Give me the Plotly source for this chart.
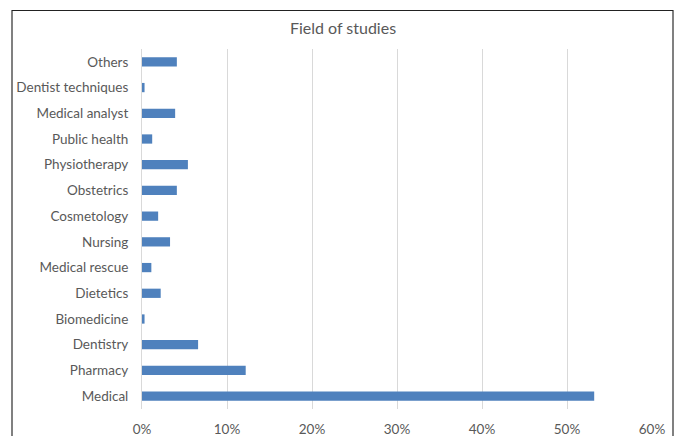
import plotly.graph_objects as go

# Share of respondents by field of studies (percent)
fields = [
    "Medical", "Pharmacy", "Dentistry", "Biomedicine", "Dietetics",
    "Medical rescue", "Nursing", "Cosmetology", "Obstetrics",
    "Physiotherapy", "Public health", "Medical analyst",
    "Dentist techniques", "Others",
]
shares = [53.2, 12.2, 6.6, 0.3, 2.2, 1.1, 3.3, 1.9, 4.1, 5.4, 1.2, 3.9, 0.3, 4.1]
tick_vals = [0, 10, 20, 30, 40, 50, 60]
tick_text = ["0%", "10%", "20%", "30%", "40%", "50%", "60%"]

TEXT = "#595959"
FONT = "Lato, 'Liberation Sans', sans-serif"

fig = go.Figure(
    go.Bar(
        x=shares,
        y=fields,
        orientation="h",
        marker=dict(color="#4F81BD", line=dict(width=0)),
        hoverinfo="x+y",
    )
)

# Plot area spans x 142..652 and y 49..409 px
L, R, T, B = 142, 24, 49, 27
W, H = 676, 436
pw, ph = W - L - R, H - T - B

def px_x(px):
    return (px - L) / pw

def px_y(py):
    return (H - B - py) / ph

fig.update_layout(
    width=W,
    height=H,
    margin=dict(l=L, r=R, t=T, b=B, autoexpand=False),
    paper_bgcolor="white",
    plot_bgcolor="white",
    bargap=0.64,
    showlegend=False,
    font=dict(family=FONT, size=13.5, color=TEXT),
    title=dict(
        text="Field of studies",
        x=343 / W,
        xref="container",
        xanchor="center",
        y=1 - 28 / H,
        yanchor="middle",
        font=dict(family=FONT, size=16, color=TEXT),
    ),
    xaxis=dict(
        range=[0, 60],
        tickvals=tick_vals,
        ticktext=tick_text,
        showgrid=True,
        gridcolor="#D9D9D9",
        gridwidth=1,
        zeroline=False,
        showline=False,
        ticks="",
        ticklabelstandoff=10,
        automargin=False,
        fixedrange=True,
    ),
    yaxis=dict(
        categoryorder="array",
        categoryarray=fields,
        showgrid=False,
        zeroline=False,
        showline=True,
        linecolor="#D9D9D9",
        linewidth=1,
        ticks="",
        ticklabelstandoff=10,
        automargin=False,
        fixedrange=True,
    ),
    shapes=[
        # chart frame
        dict(type="line", xref="paper", yref="paper",
             x0=px_x(12), x1=px_x(12), y0=px_y(10), y1=px_y(445),
             line=dict(color="#808080", width=2)),
        dict(type="line", xref="paper", yref="paper",
             x0=px_x(673), x1=px_x(673), y0=px_y(10), y1=px_y(445),
             line=dict(color="#808080", width=2)),
        dict(type="line", xref="paper", yref="paper",
             x0=px_x(12), x1=px_x(673), y0=px_y(10.5), y1=px_y(10.5),
             line=dict(color="#222222", width=1)),
    ],
)

fig.write_html("out.html")
